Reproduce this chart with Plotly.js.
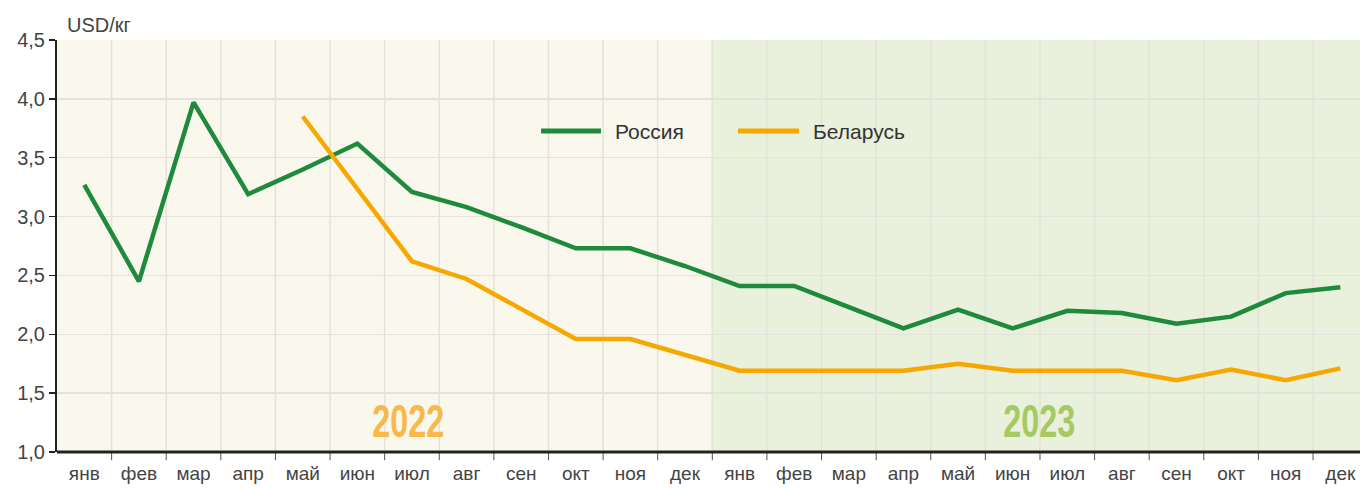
<!DOCTYPE html>
<html>
<head>
<meta charset="utf-8">
<script src="https://cdn.plot.ly/plotly-3.0.1.min.js"></script>
<style>
  html, body { margin: 0; padding: 0; background: #ffffff; }
  #chart { width: 1360px; height: 488px; }
</style>
</head>
<body>
<div id="chart"></div>
<script>
// Month labels (2022 + 2023)
const months = ["янв","фев","мар","апр","май","июн","июл","авг","сен","окт","ноя","дек",
                "янв","фев","мар","апр","май","июн","июл","авг","сен","окт","ноя","дек"];
// Price, USD/kg
const russia = [3.27, 2.45, 3.97, 3.19, 3.40, 3.62, 3.21, 3.08, 2.91, 2.73, 2.73, 2.58,
                2.41, 2.41, 2.23, 2.05, 2.21, 2.05, 2.20, 2.18, 2.09, 2.15, 2.35, 2.40];
const belarus = [null, null, null, null, 3.85, 3.24, 2.62, 2.47, 2.21, 1.96, 1.96, 1.82,
                 1.69, 1.69, 1.69, 1.69, 1.75, 1.69, 1.69, 1.69, 1.61, 1.70, 1.61, 1.71];
const seriesNames = ["Россия", "Беларусь"];
const seriesColors = ["#1e8a3c", "#f6a800"];
const years = ["2022", "2023"];
const yTicks = [1.0, 1.5, 2.0, 2.5, 3.0, 3.5, 4.0, 4.5];

const idx = months.map((m, i) => i);

const font = "'Liberation Sans', Arial, sans-serif";

const traces = [russia, belarus].map((vals, k) => ({
  x: idx, y: vals, name: seriesNames[k], type: "scatter", mode: "lines",
  line: { color: seriesColors[k], width: 4.5 }, connectgaps: false,
  hoverinfo: "skip", showlegend: false
}));

const layout = {
  width: 1360, height: 488,
  margin: { l: 57, r: 0, t: 40, b: 36 },
  paper_bgcolor: "#ffffff",
  plot_bgcolor: "rgba(0,0,0,0)",
  separators: ", ",
  showlegend: false,
  xaxis: {
    range: [-0.5, 23.36],
    tickmode: "array",
    tickvals: idx,
    ticktext: months,
    ticks: "",
    ticklabelstandoff: 8,
    showgrid: false,
    zeroline: false,
    showline: false,
    tickfont: { family: font, size: 19, color: "#444444" },
    fixedrange: true
  },
  yaxis: {
    range: [1.0, 4.5],
    tickmode: "array",
    tickvals: yTicks,
    tickformat: ".1f",
    ticks: "outside", ticklen: 6, tickwidth: 1.5, tickcolor: "#222222",
    showgrid: true, gridcolor: "#e4e2dc", gridwidth: 1.5,
    zeroline: false,
    showline: true, linecolor: "#222222", linewidth: 2,
    tickfont: { family: font, size: 20, color: "#444444" },
    fixedrange: true
  },
  shapes: [],
  annotations: [
    { text: "USD/кг", xref: "paper", yref: "paper", x: 0.006, y: 1.0, xanchor: "left", yanchor: "bottom",
      yshift: 2, showarrow: false, font: { family: font, size: 20, color: "#444444" } }
  ]
};

// Year background panels and year labels
const panelColors = ["#faf7ec", "#e9f0db"];
const yearColors = ["#f8b94a", "#a6ca62"];
const yearLabelX = [5.93, 17.5];
years.forEach((yr, k) => {
  layout.shapes.push({ type: "rect", xref: "x", yref: "paper", x0: k * 12 - 0.5, x1: k * 12 + 11.5,
    y0: 0, y1: 1, fillcolor: panelColors[k], line: { width: 0 }, layer: "below" });
  layout.annotations.push({ text: "<b>" + yr + "</b>", xref: "x", yref: "paper",
    x: yearLabelX[k], y: 0.008, xanchor: "center", yanchor: "bottom", showarrow: false,
    font: { family: font, size: 47, color: yearColors[k] } });
});
// Vertical month separators (between categories) and x tick marks
for (let i = 1; i <= 24; i++) {
  layout.shapes.push({ type: "line", xref: "x", yref: "paper", x0: i - 0.5, x1: i - 0.5,
    y0: 0, y1: 1, line: { color: "#e4e2dc", width: 1.5 }, layer: "below" });
  layout.shapes.push({ type: "line", xref: "x", yref: "paper", x0: i - 0.5, x1: i - 0.5,
    y0: 0, y1: -0.02, line: { color: "#555555", width: 1 } });
}
// Bottom axis line
layout.shapes.push({ type: "line", xref: "paper", yref: "paper", x0: 0, x1: 1, y0: 0, y1: 0,
  line: { color: "#222222", width: 3 } });

// Legend (line sample + label), placed like the original
const legendLineX = [[0.3715, 0.4175], [0.5226, 0.5695]];
const legendY = 0.779;
seriesNames.forEach((nm, k) => {
  layout.shapes.push({ type: "line", xref: "paper", yref: "paper",
    x0: legendLineX[k][0], x1: legendLineX[k][1], y0: legendY, y1: legendY,
    line: { color: seriesColors[k], width: 5 } });
  layout.annotations.push({ text: nm, xref: "paper", yref: "paper",
    x: legendLineX[k][1] + 0.0092, y: legendY, xanchor: "left", yanchor: "middle",
    showarrow: false, font: { family: font, size: 21, color: "#333333" } });
});

Plotly.newPlot("chart", traces, layout, { displayModeBar: false, staticPlot: true }).then(() => {
  // condensed look for the large year labels
  document.querySelectorAll("#chart .annotation-text").forEach(t => {
    const s = t.textContent;
    if (years.includes(s)) {
      t.setAttribute("textLength", "72");
      t.setAttribute("lengthAdjust", "spacingAndGlyphs");
    }
  });
});
</script>
</body>
</html>
